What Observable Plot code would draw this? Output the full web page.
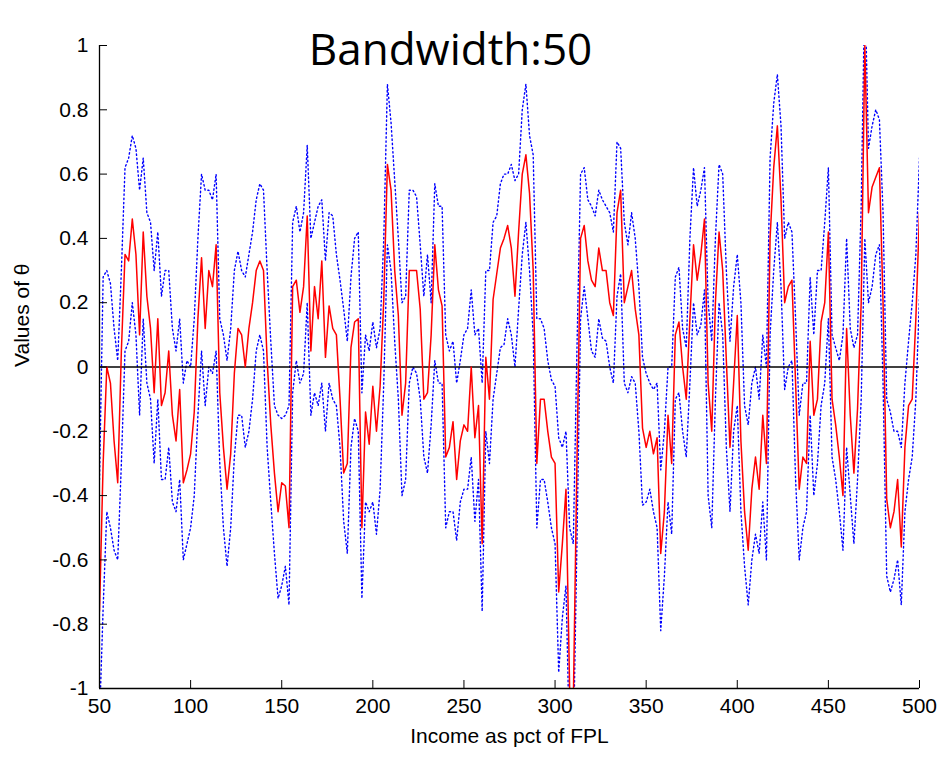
<!DOCTYPE html>
<html><head><meta charset="utf-8">
<script src="https://cdn.jsdelivr.net/npm/d3@7"></script>
<script src="https://cdn.jsdelivr.net/npm/@observablehq/plot@0.6"></script>
<style>
html,body{margin:0;padding:0;background:#fff;}
#chart{width:941px;height:758px;}
</style></head><body><div id="chart"></div>
<script>
const income = [
 50,52,54,56,58,60,62,64,66,68,
 70,72,74,76,78,80,82,84,86,88,
 90,92,94,96,98,100,102,104,106,108,
 110,112,114,116,118,120,122,124,126,128,
 130,132,134,136,138,140,142,144,146,148,
 150,152,154,156,158,160,162,164,166,168,
 170,172,174,176,178,180,182,184,186,188,
 190,192,194,196,198,200,202,204,206,208,
 210,212,214,216,218,220,222,224,226,228,
 230,232,234,236,238,240,242,244,246,248,
 250,252,254,256,258,260,262,264,266,268,
 270,272,274,276,278,280,282,284,286,288,
 290,292,294,296,298,300,302,304,306,308,
 310,312,314,316,318,320,322,324,326,328,
 330,332,334,336,338,340,342,344,346,348,
 350,352,354,356,358,360,362,364,366,368,
 370,372,374,376,378,380,382,384,386,388,
 390,392,394,396,398,400,402,404,406,408,
 410,412,414,416,418,420,422,424,426,428,
 430,432,434,436,438,440,442,444,446,448,
 450,452,454,456,458,460,462,464,466,468,
 470,472,474,476,478,480,482,484,486,488,
 490,492,494,496,498,500];

const estimate = [
 -0.76,-0.30,0.00,-0.05,-0.23,-0.36,0.05,0.35,0.33,0.46,
 0.35,0.10,0.42,0.22,0.12,-0.08,0.15,-0.12,-0.08,0.05,
 -0.15,-0.23,-0.07,-0.36,-0.32,-0.27,-0.14,0.15,0.34,0.12,
 0.30,0.25,0.38,-0.08,-0.25,-0.38,-0.27,-0.02,0.12,0.10,
 0.00,0.12,0.20,0.30,0.33,0.30,0.02,-0.18,-0.33,-0.45,
 -0.36,-0.37,-0.50,0.25,0.27,0.17,0.25,0.47,0.05,0.25,
 0.15,0.33,0.03,0.19,0.12,0.10,-0.10,-0.33,-0.30,0.06,
 0.14,0.15,-0.50,-0.14,-0.24,-0.06,-0.20,-0.06,0.21,0.63,
 0.55,0.30,0.16,-0.15,-0.05,0.30,0.30,0.30,0.18,-0.10,
 -0.08,0.10,0.38,0.24,0.19,-0.28,-0.25,-0.17,-0.35,-0.23,
 -0.18,-0.20,0.00,-0.22,-0.12,-0.55,0.03,-0.10,0.21,0.29,
 0.37,0.40,0.44,0.37,0.22,0.42,0.60,0.66,0.54,0.30,
 -0.30,-0.10,-0.10,-0.20,-0.28,-0.30,-0.70,-0.55,-0.38,-1.00,
 -1.05,-0.30,0.40,0.44,0.33,0.27,0.25,0.37,0.30,0.30,
 0.20,0.16,0.48,0.55,0.20,0.25,0.30,0.18,0.10,-0.19,
 -0.25,-0.20,-0.27,-0.22,-0.58,-0.45,-0.15,-0.30,0.10,0.14,
 0.00,-0.10,0.15,0.38,0.27,0.35,0.46,-0.05,-0.20,0.20,
 0.42,0.30,0.02,-0.25,-0.05,0.16,-0.23,-0.45,-0.57,-0.38,
 -0.28,-0.38,-0.15,-0.30,0.40,0.62,0.75,0.52,0.20,0.25,
 0.27,-0.05,-0.38,-0.28,-0.30,0.08,-0.15,-0.10,0.14,0.20,
 0.42,-0.10,-0.18,-0.28,-0.40,0.12,-0.15,-0.33,-0.13,0.20,
 1.00,0.48,0.56,0.59,0.62,0.20,-0.41,-0.50,-0.45,-0.35,
 -0.56,-0.25,-0.12,-0.10,0.15,0.48];

const upperBand = [
 -0.35,0.28,0.30,0.26,0.12,0.02,0.30,0.62,0.65,0.72,
 0.68,0.55,0.65,0.48,0.45,0.30,0.42,0.22,0.30,0.30,
 0.12,0.05,0.15,-0.05,0.02,0.00,0.15,0.40,0.60,0.55,
 0.55,0.52,0.60,0.15,0.10,0.02,0.12,0.30,0.36,0.30,
 0.28,0.35,0.42,0.52,0.57,0.55,0.30,0.08,-0.12,-0.15,
 -0.16,-0.15,-0.12,0.45,0.50,0.42,0.48,0.69,0.40,0.45,
 0.50,0.52,0.33,0.48,0.47,0.35,0.27,0.18,0.08,0.28,
 0.40,0.42,-0.08,0.10,0.05,0.14,0.06,0.12,0.40,0.88,
 0.76,0.58,0.40,0.20,0.22,0.55,0.55,0.53,0.38,0.22,
 0.35,0.20,0.57,0.50,0.50,0.10,0.05,0.08,-0.05,0.02,
 0.10,0.12,0.24,0.10,0.12,-0.05,0.30,0.30,0.45,0.47,
 0.57,0.60,0.60,0.63,0.58,0.60,0.80,0.88,0.72,0.66,
 0.15,0.15,0.12,0.02,-0.04,-0.06,-0.22,-0.25,-0.20,-0.50,
 -0.55,0.05,0.60,0.62,0.52,0.50,0.47,0.55,0.52,0.50,
 0.48,0.42,0.70,0.68,0.45,0.38,0.48,0.40,0.25,0.03,
 -0.02,-0.05,-0.07,-0.05,-0.32,-0.20,0.00,0.00,0.28,0.31,
 0.12,0.06,0.40,0.62,0.50,0.55,0.62,0.20,0.08,0.40,
 0.63,0.60,0.30,0.08,0.25,0.35,0.20,-0.12,-0.18,-0.05,
 0.00,-0.10,0.10,0.00,0.65,0.82,0.91,0.75,0.40,0.45,
 0.42,0.15,-0.15,-0.05,-0.05,0.28,0.10,0.30,0.30,0.45,
 0.62,0.10,0.06,0.02,0.10,0.40,0.12,0.06,0.10,0.50,
 1.20,0.68,0.75,0.80,0.77,0.48,-0.10,-0.14,-0.20,-0.20,
 -0.25,-0.05,0.08,0.20,0.35,0.65];

const lowerBand = [
 -1.10,-0.75,-0.45,-0.50,-0.57,-0.60,-0.30,0.05,0.08,0.20,
 0.10,-0.15,0.15,-0.05,-0.10,-0.30,-0.10,-0.35,-0.35,-0.25,
 -0.42,-0.45,-0.35,-0.60,-0.55,-0.50,-0.40,-0.15,0.05,-0.12,
 0.00,-0.02,0.05,-0.30,-0.50,-0.62,-0.50,-0.28,-0.15,-0.15,
 -0.25,-0.20,-0.10,0.05,0.10,0.05,-0.25,-0.42,-0.58,-0.72,
 -0.68,-0.62,-0.74,-0.08,0.02,-0.05,-0.02,0.20,-0.15,-0.08,
 -0.12,-0.05,-0.20,-0.05,-0.10,-0.12,-0.25,-0.48,-0.58,-0.25,
 -0.16,-0.20,-0.72,-0.42,-0.45,-0.42,-0.52,-0.38,-0.05,0.38,
 0.30,0.08,-0.10,-0.40,-0.35,-0.05,0.00,-0.02,-0.10,-0.28,
 -0.33,-0.18,0.02,-0.05,-0.05,-0.50,-0.45,-0.45,-0.54,-0.42,
 -0.38,-0.38,-0.28,-0.48,-0.35,-0.76,-0.20,-0.30,-0.10,-0.02,
 0.06,0.07,0.15,0.10,0.00,0.18,0.35,0.45,0.30,0.10,
 -0.50,-0.35,-0.35,-0.42,-0.50,-0.55,-0.95,-0.78,-0.68,-1.20,
 -1.20,-0.55,0.15,0.25,0.15,0.05,0.03,0.15,0.09,0.08,
 0.00,-0.05,0.22,0.29,-0.05,-0.08,-0.03,-0.05,-0.20,-0.43,
 -0.42,-0.38,-0.45,-0.50,-0.82,-0.65,-0.42,-0.52,-0.10,-0.08,
 -0.20,-0.28,-0.05,0.20,0.10,0.13,0.24,-0.40,-0.50,-0.10,
 0.20,0.10,-0.25,-0.45,-0.20,-0.12,-0.45,-0.62,-0.74,-0.60,
 -0.52,-0.58,-0.42,-0.60,0.10,0.30,0.45,0.25,-0.07,0.00,
 0.02,-0.35,-0.60,-0.50,-0.45,-0.15,-0.40,-0.30,-0.12,-0.05,
 0.15,-0.28,-0.35,-0.45,-0.57,-0.25,-0.40,-0.55,-0.35,-0.10,
 0.40,0.20,0.25,0.35,0.38,-0.05,-0.65,-0.70,-0.66,-0.60,
 -0.74,-0.45,-0.35,-0.28,-0.10,0.22];

const xTicks = [50,100,150,200,250,300,350,400,450,500];
const yTicks = [-1,-0.8,-0.6,-0.4,-0.2,0,0.2,0.4,0.6,0.8,1];
const titleText = "Bandwidth:50";
const xLabel = "Income as pct of FPL";
const yLabel = "Values of θ";

const rows = income.map((x, i) => ({x, est: estimate[i], hi: upperBand[i], lo: lowerBand[i]}));
const fmt = d => String(Math.round(d * 10) / 10);
const font = "'Liberation Sans', Arial, sans-serif";
const blank = () => "";

const chart = Plot.plot({
  width: 941, height: 758,
  marginLeft: 99, marginRight: 22, marginTop: 45, marginBottom: 70,
  style: {fontFamily: font, background: "#fff", color: "#000"},
  x: {domain: [50, 500]},
  y: {domain: [-1, 1]},
  marks: [
    Plot.line(rows, {x: "x", y: "hi", stroke: "#0000ff", strokeWidth: 1.4, strokeDasharray: "1.4,2.8", clip: true}),
    Plot.line(rows, {x: "x", y: "lo", stroke: "#0000ff", strokeWidth: 1.4, strokeDasharray: "1.4,2.8", clip: true}),
    Plot.ruleY([0], {stroke: "#000", strokeWidth: 1.3}),
    Plot.line(rows, {x: "x", y: "est", stroke: "#ff0000", strokeWidth: 1.5, clip: true}),
    Plot.ruleX([50], {stroke: "#000", strokeWidth: 1.3}),
    Plot.ruleY([-1], {stroke: "#000", strokeWidth: 1.3}),
    Plot.axisX({ticks: xTicks, tickSize: 8, dy: -8, tickFormat: blank, label: null, stroke: "#000"}),
    Plot.axisX({ticks: xTicks, tickSize: 0, tickPadding: 10, tickFormat: fmt, label: null, fontSize: 21, fill: "#000"}),
    Plot.axisY({ticks: yTicks, tickSize: 8, dx: 8, tickFormat: blank, label: null, stroke: "#000"}),
    Plot.axisY({ticks: yTicks, tickSize: 0, tickPadding: 11, tickFormat: fmt, label: null, fontSize: 21, fill: "#000"}),
    Plot.text([xLabel], {frameAnchor: "bottom", dy: 54, fontSize: 21, fill: "#000"}),
    Plot.text([yLabel], {frameAnchor: "left", rotate: -90, dx: -77, fontSize: 21, fill: "#000"}),
    Plot.text([titleText], {frameAnchor: "top", dx: -59, dy: -12, fontSize: 44, fontFamily: "'Open Sans', 'Noto Sans', sans-serif", fill: "#000"})
  ]
});
document.getElementById("chart").appendChild(chart);
</script></body></html>
